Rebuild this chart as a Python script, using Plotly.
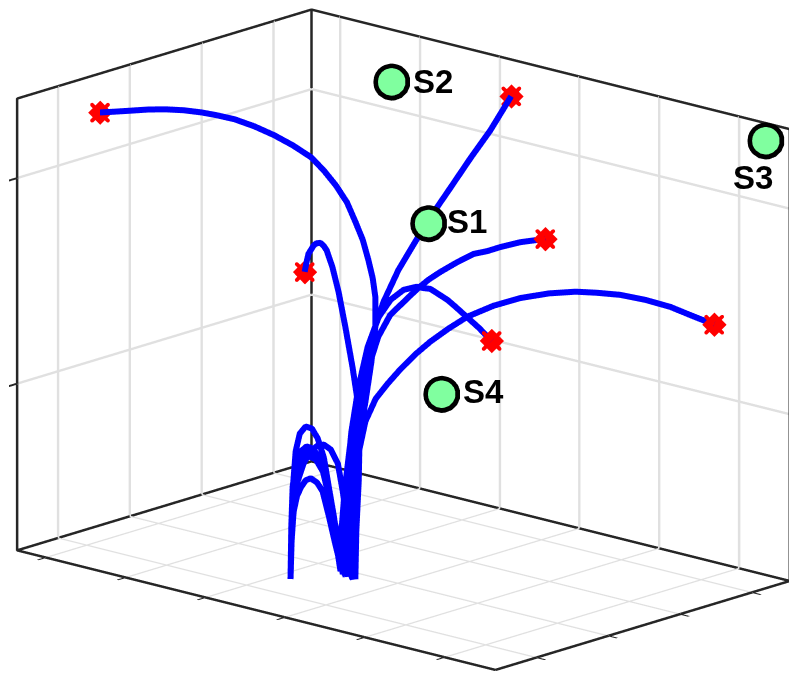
import plotly.graph_objects as go

# trajectories, one per end point (unit box coordinates)
x_a = [.422, .423, .424, .427, .432, .437, .443, .449, .454, .460, .466, .471, .477,
       .479, .484, .494, .506, .516, .523, .523, .518, .511, .501, .489, .474, .455, .434, .412, .381, .349,
       .315, .281, .250, .224, .194, .164, .134, .105, .076, .050]
y_a = [.243, .244, .247, .253, .262, .273, .284, .295, .307, .318, .329, .340, .351,
       .352, .353, .357, .361, .365, .367, .367, .366, .363, .360, .355, .350, .343, .336, .328, .317, .306,
       .294, .282, .271, .262, .251, .241, .230, .219, .209, .200]
z_a = [0, .117, .205, .255, .282, .292, .287, .268, .223, .157, .090, .034, 0,
       .100, .189, .301, .392, .482, .561, .627, .668, .706, .749, .786, .827, .861, .890, .915, .935, .951,
       .964, .973, .976, .977, .976, .972, .966, .958, .950, .943]

x_b = [.422, .423, .426, .430, .437, .445, .453, .460, .468, .476, .482, .487, .492, .496,
       .498, .503, .505, .501, .490, .475, .461, .448, .436, .430, .423, .415, .409, .398, .394, .390]
y_b = [.243, .245, .248, .254, .263, .274, .285, .294, .305, .316, .323, .331, .337, .343,
       .343, .343, .343, .343, .343, .343, .343, .343, .343, .343, .343, .343, .343, .343, .343, .343]
z_b = [0, .084, .161, .216, .256, .283, .296, .298, .287, .256, .194, .117, .051, 0,
       .107, .218, .329, .394, .468, .553, .626, .678, .712, .720, .725, .722, .716, .694, .675, .652]

x_c = [.422, .423, .423, .425, .428, .431, .435, .438, .441, .444, .447, .449,
       .449, .450, .452, .454, .456, .459, .462, .466, .471, .476, .481, .488, .494, .500]
y_c = [.243, .245, .248, .256, .269, .286, .304, .319, .334, .347, .359, .369,
       .372, .381, .396, .416, .439, .465, .494, .538, .587, .631, .680, .747, .805, .866]
z_c = [0, .106, .183, .237, .266, .277, .272, .250, .193, .125, .057, 0,
       .088, .175, .272, .356, .441, .514, .575, .638, .692, .740, .786, .850, .902, .967]

x_d = [.422, .423, .424, .425, .428, .432, .436, .441, .447, .452, .458, .463, .469, .474,
       .476, .482, .490, .503, .519, .542, .567, .595, .624, .647, .672, .705, .741, .770, .797, .839, .891]
y_d = [.243, .244, .246, .249, .255, .262, .272, .281, .292, .303, .315, .326, .337, .346,
       .346, .346, .346, .346, .346, .346, .346, .346, .346, .346, .346, .346, .346, .346, .346, .346, .346]
z_d = [0, .073, .117, .150, .183, .202, .217, .221, .211, .191, .134, .079, .023, 0,
       .100, .190, .291, .383, .465, .548, .603, .639, .676, .702, .726, .755, .784, .798, .814, .836, .857]

x_e = [.422, .423, .424, .426, .429, .434, .439, .443, .448, .452, .456, .460, .463,
       .465, .471, .481, .496, .515, .538, .563, .590, .617, .632, .646, .682, .699, .715, .747, .774]
y_e = [.243, .245, .248, .254, .263, .275, .288, .301, .314, .324, .335, .346, .354,
       .354, .354, .354, .354, .354, .354, .354, .354, .354, .354, .354, .354, .354, .354, .354, .354]
z_e = [0, .106, .205, .282, .320, .335, .329, .306, .262, .197, .130, .052, 0,
       .096, .208, .321, .424, .517, .589, .634, .663, .677, .678, .680, .665, .654, .643, .621, .599]

x_f = [.422, .423, .426, .429, .435, .443, .451, .459, .466, .472, .479, .486, .493,
       .494, .497, .501, .509, .522, .537, .554, .573, .591, .614, .638, .671, .705, .739, .775, .802, .831,
       .863, .895, .922, .950]
y_f = [.243, .245, .248, .253, .260, .271, .282, .293, .302, .311, .320, .330, .339,
       .340, .343, .347, .356, .370, .386, .403, .423, .443, .467, .493, .528, .564, .606, .638, .667, .698,
       .731, .765, .794, .824]
z_f = [0, .106, .183, .234, .261, .272, .265, .238, .190, .128, .073, .029, 0,
       .106, .195, .283, .350, .401, .435, .469, .503, .531, .561, .589, .615, .634, .645, .652, .651, .648,
       .639, .625, .607, .589]

curves = [(x_a, y_a, z_a), (x_b, y_b, z_b), (x_c, y_c, z_c),
          (x_d, y_d, z_d), (x_e, y_e, z_e), (x_f, y_f, z_f)]

# sensors
sensor_names = ["S1", "S2", "S3", "S4"]
sensor_x = [.55, .30, .98, .45]
sensor_y = [.503, .784, .95, .71]
sensor_z = [.771, .963, .98, .326]

# ticks and grid
x_ticks = [.06, .227, .394, .56, .727, .894]
y_ticks = [.139, .383, .627, .871]
z_ticks = [.369, .824]

# axes box edges
box_x = [1, 0, 0, 0, 0, 0, 0, 1, 1, 0, 1, 1, 1]
box_y = [0, 0, 0, 1, 1, 0, 1, 1, 1, 1, 1, 1, 0]
box_z = [0, 0, 1, 1, 0, 0, 0, 0, 1, 1, 1, 0, 0]

fig = go.Figure()

fig.add_trace(go.Scatter3d(x=box_x, y=box_y, z=box_z, mode="lines",
                           line=dict(color="#262626", width=5), hoverinfo="skip"))

for cx, cy, cz in curves:
    fig.add_trace(go.Scatter3d(x=cx, y=cy, z=cz, mode="lines",
                               line=dict(color="#0000ff", width=12)))

# red asterisks at the end of each curve, built from three symbols
end_x = [c[0][-1] for c in curves]
end_y = [c[1][-1] for c in curves]
end_z = [c[2][-1] for c in curves]
for symbol, size in [("circle", 7), ("diamond", 8), ("x", 4.5)]:
    fig.add_trace(go.Scatter3d(x=end_x, y=end_y, z=end_z, mode="markers",
                               marker=dict(symbol=symbol, color="#ff0000", size=size)))

# black ring under a smaller green disc
fig.add_trace(go.Scatter3d(x=sensor_x, y=sensor_y, z=sensor_z, mode="markers",
                           marker=dict(color="black", size=21.5)))
fig.add_trace(go.Scatter3d(x=sensor_x, y=sensor_y, z=sensor_z, mode="markers",
                           marker=dict(color="#80ff9f", size=16)))

label_shift = [(39, 2), (42, 0), (-13, -37), (42, 2)]
annotations = [
    dict(x=sx, y=sy, z=sz, text=name, showarrow=False, xshift=dx, yshift=dy,
         font=dict(family="Liberation Sans", size=33, color="black", weight="bold"))
    for name, sx, sy, sz, (dx, dy) in zip(sensor_names, sensor_x, sensor_y, sensor_z, label_shift)
]

axis_style = dict(range=[0, 1], autorange=False, showbackground=False, showticklabels=False,
                  title=dict(text=""), showspikes=False, zeroline=False, showgrid=True,
                  gridcolor="#e0e0e0", gridwidth=5, ticks="outside", ticklen=12,
                  tickcolor="#262626", tickwidth=4, showline=False)

fig.update_layout(
    width=797,
    height=682,
    margin=dict(l=0, r=0, t=0, b=0),
    paper_bgcolor="white",
    showlegend=False,
    scene=dict(
        domain=dict(x=[0, 1], y=[0, 1]),
        xaxis=dict(tickvals=x_ticks, **axis_style),
        yaxis=dict(tickvals=y_ticks, **axis_style),
        zaxis=dict(tickvals=z_ticks, **axis_style),
        aspectmode="manual",
        aspectratio=dict(x=1.896, y=1.283, z=1.378),
        camera=dict(projection=dict(type="orthographic"),
                    center=dict(x=0.0115, y=0.0005, z=-0.0261),
                    eye=dict(x=0.9507, y=-1.0323, z=0.373)),
        annotations=annotations,
    ),
)

fig.write_html("out.html")
